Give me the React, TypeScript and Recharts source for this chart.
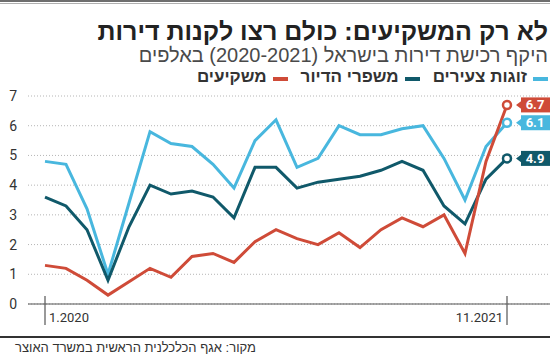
import React from 'react';
import { LineChart, Line, XAxis, YAxis, CartesianGrid } from 'recharts';

const months = [
  '1.2020', '2.2020', '3.2020', '4.2020', '5.2020', '6.2020', '7.2020', '8.2020',
  '9.2020', '10.2020', '11.2020', '12.2020', '1.2021', '2.2021', '3.2021', '4.2021',
  '5.2021', '6.2021', '7.2021', '8.2021', '9.2021', '10.2021', '11.2021',
];

// thousands of apartments bought
const youngCouples = [4.8, 4.7, 3.2, 1.0, 3.4, 5.8, 5.4, 5.3, 4.7, 3.9, 5.5, 6.2, 4.6, 4.9, 6.0, 5.7, 5.7, 5.9, 6.0, 4.9, 3.5, 5.3, 6.1];
const upgraders = [3.6, 3.3, 2.5, 0.8, 2.6, 4.0, 3.7, 3.8, 3.6, 2.9, 4.6, 4.6, 3.9, 4.1, 4.2, 4.3, 4.5, 4.8, 4.5, 3.3, 2.7, 4.2, 4.9];
const investors = [1.3, 1.2, 0.8, 0.3, 0.75, 1.2, 0.9, 1.6, 1.7, 1.4, 2.1, 2.5, 2.2, 2.0, 2.4, 1.9, 2.5, 2.9, 2.6, 3.0, 1.7, 4.8, 6.7];

const yTicks = [0, 1, 2, 3, 4, 5, 6, 7];
const shownMonths = ['1.2020', '11.2021'];

const BLUE = '#48b7de';
const TEAL = '#10596a';
const RED = '#cf4b38';

const data = months.map((m, i) => ({
  month: m,
  young: youngCouples[i],
  upgrade: upgraders[i],
  invest: investors[i],
}));

const hebrew = '"Liberation Sans", "DejaVu Sans", sans-serif';
const digits = 'Roboto, "Liberation Sans", sans-serif';

const lastIdx = months.length - 1;

const endDot = (color: string, values: number[]) => (props: any) => {
  const { cx, cy, index } = props;
  if (index !== lastIdx) return <g key={`d${index}`} />;
  return (
    <g key={`d${index}`}>
      <circle cx={cx} cy={cy} r={4} fill="#fff" stroke={color} strokeWidth={2.5} />
      <polygon points={`${cx + 9},${cy} ${cx + 15},${cy - 4.5} ${cx + 15},${cy + 4.5}`} fill={color} />
      <rect x={cx + 14} y={cy - 7.5} width={40} height={15} fill={color} />
      <text x={cx + 28} y={cy + 4.5} textAnchor="middle" fill="#fff" fontFamily={digits} fontWeight={700} fontSize={13}>
        {values[lastIdx].toFixed(1)}
      </text>
    </g>
  );
};

const MonthTick = (props: any) => {
  const { x, y, payload } = props;
  const v = payload.value;
  if (!shownMonths.includes(v)) return <g />;
  const first = v === shownMonths[0];
  return (
    <g>
      <line x1={x} x2={x} y1={y - 16} y2={y + 13} stroke="#555" strokeWidth={1.2} />
      <text
        x={first ? x + 4 : x - 4}
        y={y + 10}
        textAnchor={first ? 'start' : 'end'}
        fill="#333"
        fontFamily={digits}
        fontSize={13}
      >
        {v}
      </text>
    </g>
  );
};

const LegendItem = ({ label, color }: { label: string; color: string }) => (
  <span style={{ display: 'inline-flex', alignItems: 'center', marginLeft: 13 }}>
    <span style={{ display: 'inline-block', width: 15, height: 3.5, background: color, marginLeft: 6, marginTop: 4 }} />
    <span>{label}</span>
  </span>
);

export default function App() {
  return (
    <div style={{ position: 'absolute', left: 0, top: 0, width: 550, height: 357, background: '#fff', overflow: 'hidden' }}>
      <div style={{ position: 'absolute', left: 0, top: 0, width: 550, height: 2, background: '#6e6e6e' }} />
      <div style={{ position: 'absolute', left: 0, top: 3, width: 550, height: 1, background: '#b0b0b0' }} />

      <div
        style={{
          position: 'absolute', right: 2, top: 17, direction: 'rtl', whiteSpace: 'nowrap',
          fontFamily: hebrew, fontWeight: 700, fontSize: 25, lineHeight: '28px', color: '#222',
        }}
      >
        לא רק המשקיעים: כולם רצו לקנות דירות
      </div>
      <div
        style={{
          position: 'absolute', right: 2, top: 45, direction: 'rtl', whiteSpace: 'nowrap',
          fontFamily: hebrew, fontSize: 20, lineHeight: '20px', color: '#4a4a4a',
        }}
      >
        היקף רכישת דירות בישראל (2020-2021) באלפים
      </div>
      <div
        style={{
          position: 'absolute', right: 2, top: 67, direction: 'rtl', whiteSpace: 'nowrap',
          fontFamily: hebrew, fontWeight: 700, fontSize: 17, lineHeight: '20px', color: '#333',
          display: 'flex',
        }}
      >
        <LegendItem label="זוגות צעירים" color={BLUE} />
        <LegendItem label="משפרי הדיור" color={TEAL} />
        <LegendItem label="משקיעים" color={RED} />
      </div>

      <div style={{ position: 'absolute', left: 0, top: 0 }}>
        <LineChart width={550} height={357} data={data} margin={{ top: 96, right: 0, bottom: 23, left: 0 }}>
          <CartesianGrid vertical={false} stroke="#b5b5b5" strokeDasharray="1 2" />
          <XAxis
            dataKey="month"
            interval={0}
            tickLine={false}
            axisLine={{ stroke: '#555', strokeWidth: 1.2 }}
            tick={<MonthTick />}
            padding={{ left: 17, right: 43 }}
            height={30}
          />
          <YAxis
            domain={[0, 7]}
            ticks={yTicks}
            width={28}
            axisLine={false}
            tickLine={false}
            tickMargin={5}
            tick={{ fill: '#333', fontFamily: digits, fontSize: 14 }}
          />
          <Line dataKey="young" stroke={BLUE} strokeWidth={3} dot={endDot(BLUE, youngCouples)} activeDot={false} isAnimationActive={false} />
          <Line dataKey="upgrade" stroke={TEAL} strokeWidth={3} dot={endDot(TEAL, upgraders)} activeDot={false} isAnimationActive={false} />
          <Line dataKey="invest" stroke={RED} strokeWidth={3} dot={endDot(RED, investors)} activeDot={false} isAnimationActive={false} />
        </LineChart>
      </div>

      <div style={{ position: 'absolute', left: 0, top: 336, width: 550, height: 2, background: '#333' }} />
      <div
        style={{
          position: 'absolute', right: 294, top: 340, direction: 'rtl', whiteSpace: 'nowrap',
          fontFamily: hebrew, fontSize: 13, lineHeight: '16px', color: '#333',
        }}
      >
        מקור: אגף הכלכלנית הראשית במשרד האוצר
      </div>
    </div>
  );
}
